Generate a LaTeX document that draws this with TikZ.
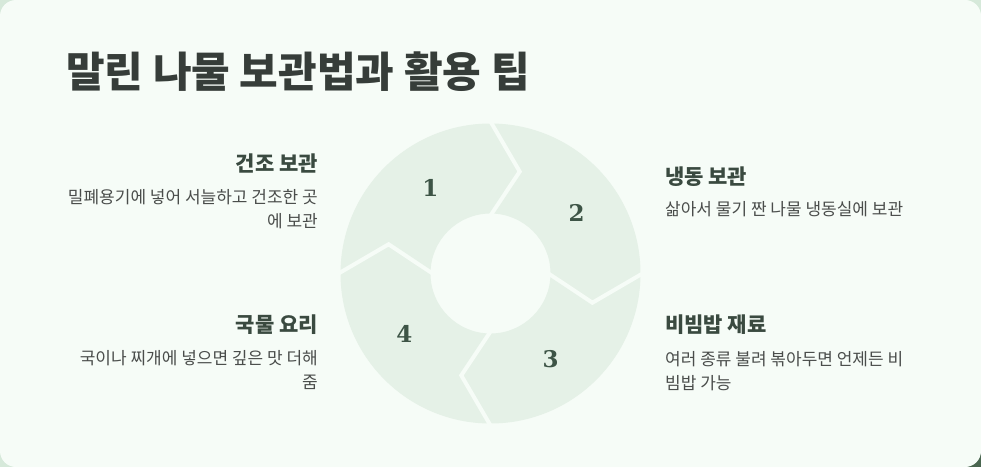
\documentclass[tikz,border=0pt]{standalone}
\usepackage{fontspec}
\setmainfont{Noto Sans CJK KR}
\newfontfamily\numfont{DejaVu Serif}
\usepackage{tikz}
\usetikzlibrary{positioning}

\definecolor{backdrop}{HTML}{D6E9DA}
\definecolor{darkleaf}{HTML}{4A6650}
\definecolor{card}{HTML}{F6FCF7}
\definecolor{segment}{HTML}{E5F1E7}
\definecolor{titlegray}{HTML}{363D39}
\definecolor{headgreen}{HTML}{3A4A40}
\definecolor{descgray}{HTML}{4A4D4B}
\definecolor{numgreen}{HTML}{3D5446}

\tikzset{
  title/.style={font=\fontsize{42}{48}\selectfont\bfseries, text=titlegray, inner sep=0pt},
  head/.style={font=\fontsize{21}{24}\selectfont\bfseries, text=headgreen, inner sep=0pt},
  desc/.style={font=\fontsize{17}{24}\selectfont, text=descgray, inner sep=0pt},
  num/.style={font=\fontsize{23}{24}\selectfont\numfont\bfseries, text=numgreen, inner sep=0pt},
  divider/.style={draw=card, line width=4pt, line join=miter}
}

\begin{document}
\begin{tikzpicture}[x=1pt,y=1pt]
 %the page
    \useasboundingbox (0,0) rectangle (981,467);
    \fill[backdrop] (0,0) rectangle (981,467);
    \fill[darkleaf] (940,0) rectangle (981,30);
    \fill[card, rounded corners=16pt] (0,0) rectangle (981,467);

 %the title
    \node[title, anchor=base west] (T) at (66,380) {말린 나물 보관법과 활용 팁};

 %the ring
    \coordinate (c) at (490.5,193.5);
    \begin{scope}[shift={(490.5,193.5)}]
       \fill[segment, even odd rule] (0,0) circle (150) (0,0) circle (60);
       \foreach \a in {90,0,-90,180}
          \draw[divider] (\a:152) -- (\a-16:106) -- (\a:58);
       %the numbers
       \node[num] (n1) at (125:105) {1};
       \node[num] (n2) at (35:105) {2};
       \node[num] (n3) at (-55:105) {3};
       \node[num] (n4) at (-145:105) {4};
    \end{scope}

 %the left texts
    \node[head, anchor=base east] (h1) at (318,296) {건조 보관};
    \node[desc, anchor=base east, align=right] (d1) at (318,240) {밀폐용기에 넣어 서늘하고 건조한 곳\\에 보관};
    \node[head, anchor=base east] (h4) at (318,135) {국물 요리};
    \node[desc, anchor=base east, align=right] (d4) at (318,78.5) {국이나 찌개에 넣으면 깊은 맛 더해\\줌};

 %the right texts
    \node[head, anchor=base west] (h2) at (665,283) {냉동 보관};
    \node[desc, anchor=base west, align=left] (d2) at (665,252) {삶아서 물기 짠 나물 냉동실에 보관};
    \node[head, anchor=base west] (h3) at (665,135) {비빔밥 재료};
    \node[desc, anchor=base west, align=left] (d3) at (665,78) {여러 종류 불려 볶아두면 언제든 비\\빔밥 가능};
\end{tikzpicture}
\end{document}
